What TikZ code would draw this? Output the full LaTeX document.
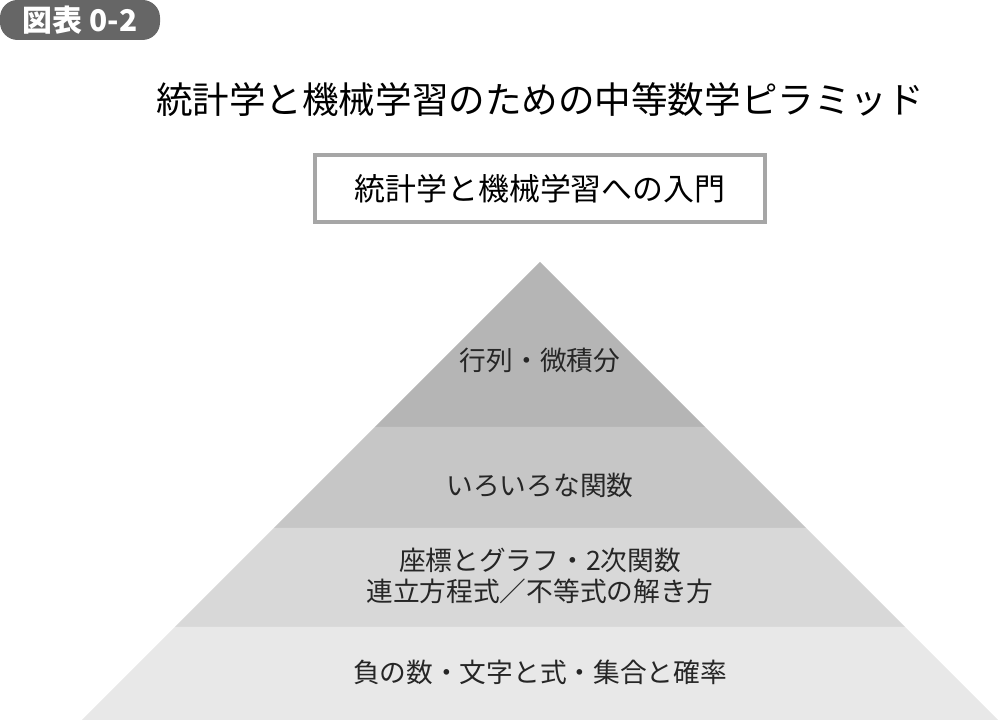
\documentclass[tikz,border=0pt]{standalone}
\usepackage{fontspec}
\setmainfont{Noto Sans CJK JP}
\usetikzlibrary{positioning}
\definecolor{badgegray}{HTML}{666666}
\definecolor{bandA}{HTML}{B5B5B5}
\definecolor{bandB}{HTML}{C6C6C6}
\definecolor{bandC}{HTML}{D8D8D8}
\definecolor{bandD}{HTML}{E8E8E8}
\tikzset{
  bandlabel/.style={font=\fontsize{7.6}{10}\selectfont, align=center, text=black!85},
}
\begin{document}
\begin{tikzpicture}
\useasboundingbox (0,0) rectangle (10,7.2);
% Badge
\node[fill=badgegray, rounded corners=5pt, text=white, font=\bfseries\fontsize{8.5}{10}\selectfont,
  minimum width=1.6cm, minimum height=0.4cm, inner sep=0pt] (badge) at (0.8,7.0) {図表 0-2};

% Title and box
\node[font=\fontsize{10.4}{12}\selectfont] (title) at (5.40,6.20) {統計学と機械学習のための中等数学ピラミッド};
\node[draw=black!35, line width=1.2pt, minimum width=4.5cm, minimum height=0.67cm,
  font=\fontsize{8.8}{10}\selectfont] (intro) at (5.40,5.315) {統計学と機械学習への入門};

% Pyramid bands
\fill[bandA] (5.40,4.58) -- (3.75,2.93) -- (7.05,2.93) -- cycle;
\fill[bandB] (3.75,2.93) -- (2.74,1.92) -- (8.06,1.92) -- (7.05,2.93) -- cycle;
\fill[bandC] (2.74,1.92) -- (1.75,0.93) -- (9.05,0.93) -- (8.06,1.92) -- cycle;
\fill[bandD] (1.75,0.93) -- (0.82,0) -- (9.98,0) -- (9.05,0.93) -- cycle;

% Labels
\node[bandlabel] (calc) at (5.40,3.60) {行列・微積分};
\node[bandlabel] (func) at (5.40,2.35) {いろいろな関数};
\node[bandlabel] (coord) at (5.40,1.44) {座標とグラフ・2次関数\\[-1pt]連立方程式／不等式の解き方};
\node[bandlabel] (basic) at (5.40,0.48) {負の数・文字と式・集合と確率};
\end{tikzpicture}
\end{document}
